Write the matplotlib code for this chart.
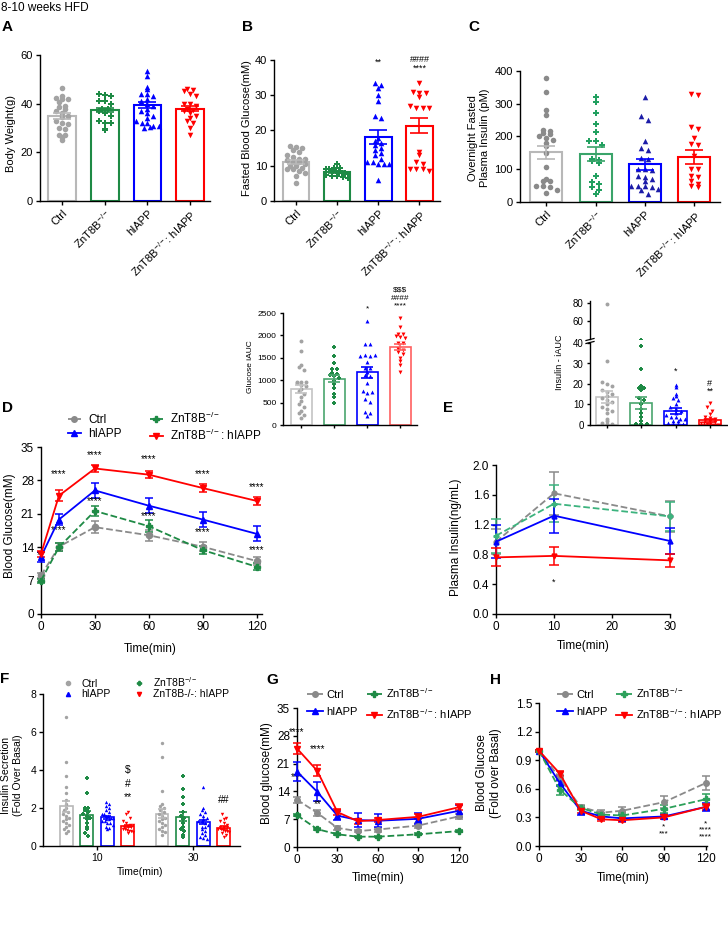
import numpy as np
import matplotlib
matplotlib.use('Agg')
import matplotlib.pyplot as plt
from matplotlib.lines import Line2D
from matplotlib.ticker import FormatStrFormatter

plt.rcParams['font.family'] = ['Liberation Sans', 'DejaVu Sans']
plt.rcParams['mathtext.fontset'] = 'custom'
plt.rcParams['mathtext.rm'] = 'Liberation Sans'
plt.rcParams['mathtext.it'] = 'Liberation Sans:italic'
plt.rcParams['mathtext.bf'] = 'Liberation Sans:bold'
plt.rcParams['axes.linewidth'] = 1.0
plt.rcParams['xtick.major.width'] = 1.0
plt.rcParams['ytick.major.width'] = 1.0
plt.rcParams['xtick.major.size'] = 3
plt.rcParams['ytick.major.size'] = 3

# ---------------- data ----------------
groups = ['Ctrl', 'ZnT8B$^{-/-}$', 'hIAPP', 'ZnT8B$^{-/-}$: hIAPP']

# A: body weight (g)
bw_ctrl = [46.5, 43, 42.5, 42, 42, 40.5, 39, 38.5, 38, 37, 36, 35, 34.5, 33, 32, 31.5, 30, 29.5, 27, 26.5, 27, 25]
bw_ko = [44, 43.5, 43, 41, 41, 40, 38, 38, 37, 36, 35, 33, 32, 32, 29.5, 29]
bw_hiapp = [53.5, 51.5, 47, 46, 44, 44, 43, 42, 41, 40, 39, 38, 37, 36, 35, 34, 33, 32, 32, 31, 31, 30, 30.5]
bw_dko = [46, 45.5, 45, 44, 43, 40, 40, 39, 38, 37.5, 37, 36, 35, 34, 33, 32, 30, 27]
bw_mean = [34.8, 37.3, 39.5, 38.0]
bw_sem = [1.3, 0.8, 1.2, 1.0]

# B: fasted blood glucose (mM)
fbg_ctrl = [15.5, 15.2, 15, 14.5, 14, 13, 12.5, 12, 12, 11.5, 11, 11, 10.5, 10, 10, 9.5, 9, 9, 8.5, 8, 7, 5]
fbg_ko = [10.5, 9.5, 9.5, 9, 9, 8.5, 8.5, 8.2, 8, 8, 7.8, 7.5, 7.2, 7, 6.8, 6.5]
fbg_hiapp = [33.5, 33, 32, 30, 28.5, 24, 23.5, 18, 17, 16.5, 16, 15, 14.5, 13.5, 13, 12, 11, 11, 10.5, 10.5, 10.5, 6]
fbg_dko = [33.5, 31, 30.5, 30.5, 29.5, 27, 26.5, 26.5, 26.5, 14, 13, 11, 10.5, 9, 9, 9, 8.5]
fbg_mean = [11.0, 8.2, 18.2, 21.4]
fbg_sem = [0.6, 0.3, 1.9, 2.2]

# C: overnight fasted plasma insulin (pM)
ins_ctrl = [378, 337, 280, 265, 220, 218, 210, 207, 200, 195, 190, 180, 170, 150, 107, 70, 65, 65, 50, 48, 47, 38, 27]
ins_ko = [320, 305, 272, 237, 213, 185, 185, 173, 130, 128, 125, 120, 80, 60, 55, 45, 38, 25]
ins_hiapp = [320, 262, 250, 185, 165, 160, 135, 130, 100, 100, 98, 80, 75, 70, 65, 50, 50, 48, 45, 40, 37, 25]
ins_dko = [330, 328, 228, 222, 195, 178, 175, 140, 100, 100, 80, 75, 65, 55, 50, 45]
ins_mean = [152, 147, 115, 138]
ins_sem = [20, 21, 17, 21]

# glucose iAUC
giauc_ctrl = [1880, 1660, 1340, 1300, 1220, 970, 960, 950, 930, 900, 870, 800, 760, 700, 620, 540, 470, 410, 320, 270, 160, 230]
giauc_ko = [1740, 1540, 1380, 1240, 1240, 1150, 1130, 1120, 1100, 1060, 980, 920, 830, 700, 620, 480]
giauc_hiapp = [2330, 1800, 1800, 1550, 1560, 1530, 1570, 1410, 1280, 1270, 1180, 1120, 1100, 930, 760, 720, 740, 570, 520, 300, 260, 200]
giauc_dko = [2390, 2190, 2040, 2040, 1990, 1960, 1940, 1820, 1820, 1700, 1680, 1620, 1580, 1500, 1420, 1350, 1190]
giauc_mean = [800, 1030, 1180, 1740]
giauc_sem = [90, 75, 120, 70]

# insulin iAUC
iiauc_ctrl = [79, 31, 21, 20, 19, 17, 16, 15, 14, 13, 12, 11, 10, 9, 8, 7, 6, 3, 2, 1, 0.5, 0.5]
iiauc_ko = [38.5, 27.5, 19, 18, 18, 17, 13, 12, 10, 8, 6, 4, 2, 0.5, 0.5, 0.5]
iiauc_hiapp = [19.5, 18.5, 15, 14, 13, 12, 10, 9, 8, 7, 6, 5, 4, 4, 3, 3, 2, 2, 1, 0.5, 0.5, 0.5]
iiauc_dko = [10.5, 9, 7, 5.5, 4, 3.5, 3, 2.5, 2, 1.5, 1, 0.8, 0.5, 0.3, 0.2, 0.2, 0.1]
iiauc_mean = [13.8, 10.8, 6.8, 2.2]
iiauc_sem = [3.0, 2.8, 1.3, 0.8]

# D: OGTT blood glucose (mM)
ogtt_time = [0, 10, 30, 60, 90, 120]
ogtt_ctrl = [8.1, 14.1, 18.2, 16.5, 14.1, 11.1]
ogtt_ctrl_sem = [0.5, 0.8, 1.2, 1.2, 1.0, 0.8]
ogtt_ko = [7.0, 14.0, 21.6, 18.4, 13.4, 9.9]
ogtt_ko_sem = [0.4, 0.8, 1.1, 1.2, 0.8, 0.7]
ogtt_hiapp = [12.0, 19.8, 25.9, 22.7, 19.8, 16.8]
ogtt_hiapp_sem = [1.0, 1.2, 1.6, 1.6, 1.6, 1.6]
ogtt_dko = [12.6, 24.8, 30.5, 29.2, 26.4, 23.7]
ogtt_dko_sem = [0.7, 1.2, 0.8, 0.8, 0.8, 0.9]

# E: plasma insulin (ng/mL)
gsis_time = [0, 10, 30]
gsis_ctrl = [0.97, 1.62, 1.31]
gsis_ctrl_sem = [0.17, 0.29, 0.21]
gsis_ko = [1.05, 1.48, 1.31]
gsis_ko_sem = [0.23, 0.25, 0.19]
gsis_hiapp = [0.97, 1.32, 0.98]
gsis_hiapp_sem = [0.22, 0.23, 0.17]
gsis_dko = [0.76, 0.78, 0.72]
gsis_dko_sem = [0.12, 0.12, 0.09]

# F: islet insulin secretion (fold over basal)
sec_times = ['10', '30']
sec_ctrl_10 = [6.8, 4.4, 3.7, 3.1, 2.8, 2.4, 2.2, 2.0, 1.9, 1.8, 1.7, 1.6, 1.5, 1.4, 1.3, 1.2, 1.1, 1.0, 0.9, 0.8, 0.7]
sec_ko_10 = [3.6, 2.8, 2.0, 2.0, 1.9, 1.8, 1.7, 1.6, 1.5, 1.4, 1.2, 1.0, 0.9, 0.7, 0.55]
sec_hiapp_10 = [2.3, 2.2, 2.1, 2.0, 1.9, 1.8, 1.7, 1.7, 1.6, 1.6, 1.5, 1.5, 1.4, 1.4, 1.3, 1.3, 1.2, 1.2, 1.1, 1.0, 0.95, 0.9]
sec_dko_10 = [1.8, 1.7, 1.5, 1.3, 1.2, 1.1, 1.1, 1.0, 1.0, 1.0, 0.9, 0.9, 0.85, 0.8, 0.8, 0.75, 0.7]
sec_ctrl_30 = [5.4, 4.7, 2.9, 2.2, 2.1, 2.0, 1.9, 1.8, 1.7, 1.6, 1.5, 1.4, 1.3, 1.2, 1.1, 1.0, 0.9, 0.8, 0.75, 0.6]
sec_ko_30 = [3.7, 3.0, 2.6, 2.2, 1.8, 1.6, 1.5, 1.4, 1.2, 1.0, 0.9, 0.8, 0.6, 0.5]
sec_hiapp_30 = [3.1, 2.0, 1.9, 1.8, 1.7, 1.6, 1.5, 1.4, 1.3, 1.3, 1.2, 1.1, 1.0, 1.0, 0.9, 0.8, 0.7, 0.6, 0.5, 0.4, 0.35]
sec_dko_30 = [1.7, 1.5, 1.4, 1.3, 1.2, 1.1, 1.0, 1.0, 1.0, 0.9, 0.9, 0.85, 0.8, 0.8, 0.75, 0.7, 0.6, 0.5]
sec_mean_10 = [2.08, 1.65, 1.52, 1.05]
sec_sem_10 = [0.28, 0.18, 0.08, 0.07]
sec_mean_30 = [1.70, 1.55, 1.28, 0.97]
sec_sem_30 = [0.25, 0.22, 0.10, 0.06]

# G: ITT blood glucose (mM)
itt_time = [0, 15, 30, 45, 60, 90, 120]
itt_ctrl = [11.9, 8.6, 4.8, 4.0, 4.4, 5.4, 7.7]
itt_ctrl_sem = [0.8, 0.8, 0.4, 0.3, 0.5, 0.7, 0.6]
itt_ko = [8.0, 4.5, 3.2, 2.6, 2.6, 3.2, 4.0]
itt_ko_sem = [0.3, 0.3, 0.2, 0.2, 0.2, 0.2, 0.3]
itt_hiapp = [19.0, 13.9, 7.9, 6.8, 6.6, 7.1, 9.1]
itt_hiapp_sem = [2.4, 2.4, 1.1, 1.7, 1.6, 1.4, 1.5]
itt_dko = [24.8, 19.2, 8.8, 6.5, 6.8, 7.6, 10.0]
itt_dko_sem = [1.4, 1.4, 0.7, 0.6, 0.6, 0.6, 0.8]

# H: ITT fold over basal
fold_ctrl = [1.0, 0.71, 0.41, 0.35, 0.37, 0.46, 0.66]
fold_ctrl_sem = [0.01, 0.03, 0.02, 0.03, 0.04, 0.06, 0.07]
fold_ko = [1.0, 0.59, 0.40, 0.33, 0.32, 0.39, 0.49]
fold_ko_sem = [0.01, 0.05, 0.02, 0.02, 0.03, 0.04, 0.06]
fold_hiapp = [1.0, 0.66, 0.37, 0.31, 0.29, 0.31, 0.41]
fold_hiapp_sem = [0.01, 0.03, 0.04, 0.03, 0.03, 0.03, 0.04]
fold_dko = [1.0, 0.76, 0.37, 0.28, 0.27, 0.30, 0.41]
fold_dko_sem = [0.01, 0.03, 0.02, 0.02, 0.02, 0.02, 0.03]

# ---------------- style ----------------
GREY = '#a3a3a3'
GREY_D = '#8a8a8a'
GREEN = '#1e8a45'
GREEN_L = '#3cb37e'
BLUE = '#0000ff'
NAVY = '#1c1ca8'
RED = '#ff0000'
markers = ['o', 'P', '^', 'v']

W, H = 728, 947
fig = plt.figure(figsize=(W / 100, H / 100), dpi=100)


def box(left, top, right, bottom):
    return [left / W, 1 - bottom / H, (right - left) / W, (bottom - top) / H]


def clean(ax, size=8):
    ax.spines['top'].set_visible(False)
    ax.spines['right'].set_visible(False)
    ax.tick_params(labelsize=size, pad=2)


def swarm(values, center, step, dx, half):
    v = np.asarray(values, float)
    x = np.full(len(v), float(center))
    bins = np.round(v / step)
    for b in np.unique(bins):
        idx = np.where(bins == b)[0]
        k = len(idx)
        d = min(dx, 2 * half / max(k - 1, 1))
        x[idx] = center + (np.arange(k) - (k - 1) / 2) * d
    return x


def dot_bars(ax, xs, pts, means, sems, cols, edges, bw, step, dx, s, cap, lw=1.5):
    for i, x in enumerate(xs):
        ax.bar(x, means[i], width=bw, facecolor='white', edgecolor=edges[i], linewidth=lw, zorder=1)
        px = swarm(pts[i], x, step, dx, bw * 0.42)
        ax.scatter(px, pts[i], s=s, marker=markers[i], color=cols[i], linewidths=0, zorder=2)
        ax.errorbar(x, means[i], yerr=sems[i], color=edges[i], capsize=cap, elinewidth=1.2,
                    capthick=1.2, zorder=3)


def stars(ax, items, size=6.5, ls=1.0):
    # each item may hold several stacked lines of significance marks
    for x, y, t in items:
        ax.text(x, y, t, ha='center', va='center', fontsize=size, linespacing=ls,
                multialignment='center')


def label(x, y, t):
    fig.text(x / W, 1 - y / H, t, fontsize=11, fontweight='bold', ha='left', va='center')


def ylab(x, y, t, size=8):
    fig.text(x / W, 1 - y / H, t, rotation=90, ha='center', va='center', fontsize=size,
             multialignment='center')


def xlab(x, y, t, size=8.5):
    fig.text(x / W, 1 - y / H, t, ha='center', va='center', fontsize=size)


def lines(ax, t, series, ms=4.5, cap=3):
    for y, e, c, mk, ls, lab in series:
        ax.errorbar(t, y, yerr=e, fmt='none', ecolor=c, capsize=cap, elinewidth=1.1, capthick=1.1,
                    clip_on=False, zorder=3)
        ax.plot(t, y, color=c, marker=mk, ls=ls, lw=1.3, ms=ms, clip_on=False, zorder=4)


fig.text(1 / W, 1 - 8 / H, '8-10 weeks HFD', fontsize=8.5, va='center')

# ---------------- A ----------------
ax = fig.add_axes(box(40, 55, 210, 201))
dot_bars(ax, range(4), [bw_ctrl, bw_ko, bw_hiapp, bw_dko], bw_mean, bw_sem,
         [GREY, GREEN, BLUE, RED], ['#b8b8b8', GREEN, BLUE, RED], 0.65, 2.0, 0.14, 16, 6.5)
ax.set_ylim(0, 60)
ax.set_yticks([0, 20, 40, 60])
ax.set_xlim(-0.52, 3.47)
ax.set_xticks(range(4))
ax.set_xticklabels(groups, rotation=45, ha='right', rotation_mode='anchor')
clean(ax)
ylab(11, 133, 'Body Weight(g)')
label(2, 27, 'A')

# ---------------- B ----------------
ax = fig.add_axes(box(274, 60, 440, 201))
dot_bars(ax, range(4), [fbg_ctrl, fbg_ko, fbg_hiapp, fbg_dko], fbg_mean, fbg_sem,
         [GREY, GREEN, BLUE, RED], ['#b8b8b8', GREEN, BLUE, RED], 0.64, 1.4, 0.15, 16, 6.5)
ax.set_ylim(0, 40)
ax.set_yticks([0, 10, 20, 30, 40])
ax.set_xlim(-0.54, 3.5)
ax.set_xticks(range(4))
ax.set_xticklabels(groups, rotation=45, ha='right', rotation_mode='anchor')
clean(ax)
stars(ax, [(2, 39.3, '**'), (3, 38.8, '####\n****')], ls=0.95)
ylab(247, 128, 'Fasted Blood Glucose(mM)')
label(242, 27, 'B')

# ---------------- C ----------------
ax = fig.add_axes(box(520, 71, 720, 202))
dot_bars(ax, range(4), [ins_ctrl, ins_ko, ins_hiapp, ins_dko], ins_mean, ins_sem,
         [GREY_D, '#22a060', NAVY, RED], ['#b8b8b8', '#3aa46a', BLUE, RED], 0.65, 15, 0.14, 16, 6.5)
ax.set_ylim(0, 400)
ax.set_yticks([0, 100, 200, 300, 400])
ax.set_xlim(-0.53, 3.52)
ax.set_xticks(range(4))
ax.set_xticklabels(groups, rotation=45, ha='right', rotation_mode='anchor')
clean(ax)
ylab(479, 138, 'Overnight Fasted\nPlasma Insulin (pM)')
label(468, 27, 'C')

# ---------------- glucose iAUC inset ----------------
ax = fig.add_axes(box(283, 313, 417, 425))
dot_bars(ax, range(4), [giauc_ctrl, giauc_ko, giauc_hiapp, giauc_dko], giauc_mean, giauc_sem,
         [GREY, GREEN, BLUE, RED], ['#c4c4c4', '#4aa56e', BLUE, '#ff6060'], 0.64, 90, 0.15, 8, 4.5, lw=1.2)
ax.set_ylim(0, 2500)
ax.set_yticks([0, 500, 1000, 1500, 2000, 2500])
ax.set_xlim(-0.56, 3.5)
ax.set_xticks(range(4))
ax.set_xticklabels([])
clean(ax, 6)
ax.tick_params(length=2.5)
stars(ax, [(2, 2590, '*'), (3, 2830, '\\$\\$\\$\n####\n****')], size=6, ls=1.15)
ylab(251, 367, 'Glucose iAUC', size=6)

# ---------------- insulin iAUC inset (broken axis) ----------------
axl = fig.add_axes(box(590, 343, 728, 425))
axu = fig.add_axes(box(590, 301, 728, 339))
ii_pts = [iiauc_ctrl, iiauc_ko, iiauc_hiapp, iiauc_dko]
ii_cols = [GREY, GREEN, BLUE, RED]
dot_bars(axl, range(4), ii_pts, iiauc_mean, iiauc_sem, ii_cols,
         ['#c4c4c4', '#4aa56e', BLUE, RED], 0.65, 2.0, 0.15, 8, 4.5, lw=1.2)
for i in range(4):
    axu.scatter(swarm(ii_pts[i], i, 2.0, 0.15, 0.27), ii_pts[i], s=8, marker=markers[i],
                color=ii_cols[i], linewidths=0)
axl.set_ylim(0, 40)
axl.set_yticks([0, 10, 20, 30, 40])
axu.set_ylim(40, 82)
axu.set_yticks([60, 80])
for a in (axl, axu):
    a.set_xlim(-0.5, 3.53)
    clean(a, 7)
    a.tick_params(length=2.5)
axl.set_xticks(range(4))
axl.set_xticklabels([])
axu.set_xticks([])
axu.spines['bottom'].set_visible(False)
for yy in (339.5, 342.5):
    fig.add_artist(Line2D([586 / W, 594 / W], [1 - (yy + 1) / H, 1 - (yy - 1) / H], color='black', lw=0.9))
stars(axl, [(2, 26, '*'), (3, 18.2, '#\n**')], size=6.5, ls=0.8)
ylab(559, 362, 'Insulin - iAUC', size=6.5)

# ---------------- D ----------------
ax = fig.add_axes(box(41, 447, 262, 614))
d_series = [
    (ogtt_ctrl, ogtt_ctrl_sem, GREY_D, 'o', '--', 'Ctrl'),
    (ogtt_hiapp, ogtt_hiapp_sem, BLUE, '^', '-', 'hIAPP'),
    (ogtt_ko, ogtt_ko_sem, GREEN, 'P', '--', groups[1]),
    (ogtt_dko, ogtt_dko_sem, RED, 'v', '-', groups[3]),
]
lines(ax, ogtt_time, d_series)
ax.set_xlim(0, 123)
ax.set_ylim(0, 35)
ax.set_xticks([0, 30, 60, 90, 120])
ax.set_yticks([0, 7, 14, 21, 28, 35])
clean(ax, 8.5)
stars(ax, [(10, 29.4, '****'), (10, 17.6, '****'), (30, 33.4, '****'), (30, 23.7, '****'),
           (60, 32.4, '****'), (60, 20.6, '****'), (90, 29.3, '****'), (90, 17.2, '****'),
           (120, 26.5, '****'), (120, 13.5, '****'), (0, 12.4, '**')], size=7)
ylab(10, 526, 'Blood Glucose(mM)', size=8.5)
xlab(150, 649, 'Time(min)')
label(2, 408, 'D')
proxy = [Line2D([], [], color=c, marker=mk, ls=ls, lw=1.3, ms=4) for _, _, c, mk, ls, _ in d_series]
fig.legend(proxy, [s[5] for s in d_series], loc='upper left', bbox_to_anchor=(68 / W, 1 - 411 / H),
           ncol=2, frameon=False, fontsize=8.5, handlelength=1.1, handletextpad=0.6,
           columnspacing=2.4, labelspacing=0.15, borderpad=0, borderaxespad=0)

# ---------------- E ----------------
ax = fig.add_axes(box(496, 465, 670, 614))
e_series = [
    (gsis_ctrl, gsis_ctrl_sem, GREY_D, 'o', '--', 'Ctrl'),
    (gsis_ko, gsis_ko_sem, GREEN_L, 'P', '--', groups[1]),
    (gsis_hiapp, gsis_hiapp_sem, BLUE, '^', '-', 'hIAPP'),
    (gsis_dko, gsis_dko_sem, RED, 'v', '-', groups[3]),
]
lines(ax, gsis_time, e_series, ms=3.5, cap=3.5)
ax.set_xlim(0, 30)
ax.set_ylim(0, 2.0)
ax.set_xticks([0, 10, 20, 30])
ax.set_yticks([0, 0.4, 0.8, 1.2, 1.6, 2.0])
ax.yaxis.set_major_formatter(FormatStrFormatter('%.1f'))
clean(ax, 8.5)
stars(ax, [(10, 0.43, '*')])
ylab(456, 537, 'Plasma Insulin(ng/mL)', size=8.5)
xlab(583, 646, 'Time(min)')
label(443, 408, 'E')

# ---------------- F ----------------
ax = fig.add_axes(box(43, 694, 240, 846))
off = np.array([-1.5, -0.5, 0.5, 1.5]) * 0.215
f_cols = [GREY, GREEN, BLUE, RED]
f_edges = ['#b8b8b8', GREEN, BLUE, RED]
dot_bars(ax, 0 + off, [sec_ctrl_10, sec_ko_10, sec_hiapp_10, sec_dko_10], sec_mean_10, sec_sem_10,
         f_cols, f_edges, 0.135, 0.2, 0.036, 6, 3, lw=1.2)
dot_bars(ax, 1 + off, [sec_ctrl_30, sec_ko_30, sec_hiapp_30, sec_dko_30], sec_mean_30, sec_sem_30,
         f_cols, f_edges, 0.135, 0.2, 0.036, 6, 3, lw=1.2)
ax.set_xlim(-0.5625, 1.49)
ax.set_ylim(0, 8)
ax.set_xticks([0, 1])
ax.set_xticklabels(sec_times)
ax.set_yticks([0, 2, 4, 6, 8])
clean(ax, 7.5)
stars(ax, [(off[3], 3.27, '\\$\n#\n**'), (1 + off[3], 2.4, '##')], size=7.5, ls=1.45)
ylab(12, 775, 'Insulin Secretion\n(Fold Over Basal)', size=7.5)
xlab(140, 872, 'Time(min)', size=7.5)
label(0, 679, 'F')
fproxy = [Line2D([], [], color=c, marker=m, ls='none', ms=3) for c, m in zip(f_cols, markers)]
fig.legend([fproxy[0], fproxy[2], fproxy[1], fproxy[3]],
           ['Ctrl', 'hIAPP', groups[1], 'ZnT8B-/-: hIAPP'], loc='upper left',
           bbox_to_anchor=(63 / W, 1 - 675 / H), ncol=2, frameon=False, fontsize=7.5,
           handlelength=1.0, handletextpad=0.8, columnspacing=2.2, labelspacing=0.05,
           borderpad=0, borderaxespad=0)

# ---------------- G ----------------
ax = fig.add_axes(box(297, 708, 460, 847))
g_series = [
    (itt_ctrl, itt_ctrl_sem, GREY_D, 'o', '--', 'Ctrl'),
    (itt_hiapp, itt_hiapp_sem, BLUE, '^', '-', 'hIAPP'),
    (itt_ko, itt_ko_sem, GREEN, 'P', '--', groups[1]),
    (itt_dko, itt_dko_sem, RED, 'v', '-', groups[3]),
]
lines(ax, itt_time, g_series, ms=4, cap=3)
ax.set_xlim(0, 121)
ax.set_ylim(0, 35)
ax.set_xticks([0, 30, 60, 90, 120])
ax.set_yticks([0, 7, 14, 21, 28, 35])
clean(ax, 8.5)
stars(ax, [(0, 29.0, '****'), (15, 24.7, '****'), (0, 17.7, '***'), (15, 10.9, '**')], size=7)
ylab(267, 773, 'Blood glucose(mM)', size=8.5)
xlab(378, 878, 'Time(min)')
label(266, 680, 'G')
gproxy = [Line2D([], [], color=c, marker=mk, ls=ls, lw=1.3, ms=4) for _, _, c, mk, ls, _ in g_series]
fig.legend(gproxy, [s[5] for s in g_series], loc='upper left', bbox_to_anchor=(307 / W, 1 - 686 / H),
           ncol=2, frameon=False, fontsize=8, handlelength=1.4, handletextpad=0.35,
           columnspacing=0.8, labelspacing=0.65, borderpad=0, borderaxespad=0)

# ---------------- H ----------------
ax = fig.add_axes(box(539, 703, 707, 846))
h_series = [
    (fold_ctrl, fold_ctrl_sem, GREY_D, 'o', '--', 'Ctrl'),
    (fold_hiapp, fold_hiapp_sem, BLUE, '^', '-', 'hIAPP'),
    (fold_ko, fold_ko_sem, '#2ca05a', 'P', '--', groups[1]),
    (fold_dko, fold_dko_sem, RED, 'v', '-', groups[3]),
]
lines(ax, itt_time, h_series, ms=4, cap=3)
ax.set_xlim(0, 121)
ax.set_ylim(0, 1.5)
ax.set_xticks([0, 30, 60, 90, 120])
ax.set_yticks([0, 0.3, 0.6, 0.9, 1.2, 1.5])
ax.yaxis.set_major_formatter(FormatStrFormatter('%.1f'))
clean(ax, 8.5)
stars(ax, [(90, 0.165, '*\n***'), (120, 0.165, '*\n****\n****')], size=6, ls=0.95)
ylab(489, 773, 'Blood Glucose\n(Fold over Basal)', size=8.5)
xlab(623, 878, 'Time(min)')
label(490, 680, 'H')
hproxy = [Line2D([], [], color=c, marker=mk, ls=ls, lw=1.3, ms=4) for _, _, c, mk, ls, _ in h_series]
fig.legend(hproxy, [s[5] for s in h_series], loc='upper left', bbox_to_anchor=(557 / W, 1 - 686 / H),
           ncol=2, frameon=False, fontsize=8, handlelength=1.4, handletextpad=0.35,
           columnspacing=0.75, labelspacing=0.65, borderpad=0, borderaxespad=0)

fig.savefig('out.png', dpi=100)
